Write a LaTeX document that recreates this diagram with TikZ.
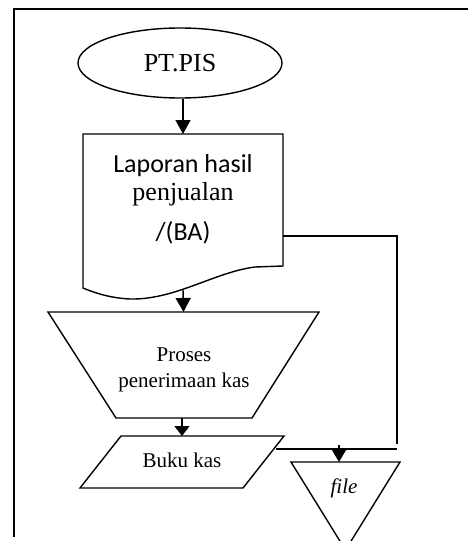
\documentclass[tikz,border=0pt]{standalone}
\usepackage{fontspec}
\setmainfont{Liberation Serif}
\newfontfamily\calibrifont{Carlito}
\usetikzlibrary{arrows.meta,shapes.geometric,calc}

\begin{document}
\begin{tikzpicture}[x=1pt,y=-1pt,
  outline/.style={line width=1.4pt, line join=miter},
  wire/.style={line width=1.4pt},
  flow/.style={line width=1.4pt, -{Triangle[width=15pt,length=14pt]}},
  box/.style={draw=none, inner sep=0pt, outer sep=0pt},
  lbl/.style={inner sep=0pt, anchor=base, font=\fontsize{21}{25}\selectfont},
  big/.style={inner sep=0pt, anchor=base, font=\fontsize{26}{30}\selectfont},
  bigsans/.style={inner sep=0pt, anchor=base, font=\calibrifont\fontsize{26}{30}\selectfont},
]
\useasboundingbox (0,0) rectangle (468,541);

% page frame (top and left rules)
\coordinate (frameTL) at (14,9);
\draw[wire] (468,9) -- (frameTL) -- (14,537);

% start terminal
\node[ellipse, draw, outline, minimum width=204pt, minimum height=70pt,
      inner sep=0pt, font=\fontsize{26}{30}\selectfont] (pt) at (180,63) {PT.PIS};

% document symbol
\node[box, minimum width=200pt, minimum height=154pt] (doc) at (183,211) {};
\draw[outline, shift={(doc.north west)}]
  (0,154) -- (0,0) -- (200,0) -- (200,132) -- (172,133)
  .. controls (132,138) and (92,166) .. (47,165)
  .. controls (27,164) and (12,159) .. (0,154) -- cycle;
\node[bigsans] (docA) at (183,172) {Laporan hasil};
\node[big]     (docB) at (183,200) {penjualan};
\node[bigsans] (docC) at (183,240) {/(BA)};

% manual process (inverted trapezoid)
\node[box, minimum width=271pt, minimum height=106pt] (proc) at (183.5,365) {};
\draw[outline, shift={(proc.north west)}]
  (0,0) -- (271,0) -- (204,106) -- (68,106) -- cycle;
\node[lbl] (procA) at (184,361) {Proses};
\node[lbl] (procB) at (184,387) {penerimaan kas};

% ledger (parallelogram)
\node[box, minimum width=204pt, minimum height=52pt] (buku) at (182,462) {};
\draw[outline, shift={(buku.north west)}]
  (41,0) -- (204,0) -- (163,52) -- (0,52) -- cycle;
\node[lbl] (bukuT) at (182,467) {Buku kas};

% file storage (inverted triangle)
\node[box, minimum width=109pt, minimum height=88pt] (store) at (345.5,506) {};
\draw[outline, shift={(store.north west)}]
  (0,0) -- (109,0) -- (54.5,88) -- cycle;
\node[lbl, font=\itshape\fontsize{21}{25}\selectfont] (storeT) at (344,493) {file};

% flow arrows
\draw[flow] (pt.south -| doc.north) -- (doc.north);
\draw[flow] ($(doc.south)+(0,1)$) -- (proc.north);
\draw[flow, -{Triangle[width=15pt,length=10pt]}] (proc.south -| buku.north) -- (buku.north);

% copy of the report routed to the file
\coordinate (tapR) at (397,444);
\draw[wire] ($(doc.north east)+(0,102)$) -| (tapR);
\coordinate (merge) at (397,449);
\draw[wire] ($(buku.north east)+(-8,13)$) -- (merge);
\coordinate (drop) at (339,445);
\draw[flow, -{Triangle[width=15pt,length=13pt]}] (drop) -- (drop |- store.north);
\end{tikzpicture}
\end{document}
